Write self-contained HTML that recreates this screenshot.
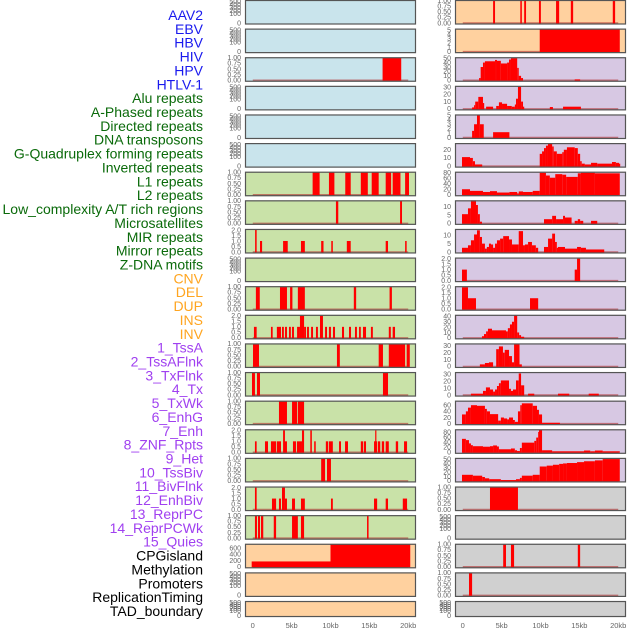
<!DOCTYPE html>
<html><head><meta charset="utf-8">
<style>
html,body{margin:0;padding:0;background:#fff;width:630px;height:630px;overflow:hidden}
svg{display:block}
</style></head>
<body>
<svg id="chart" width="630" height="630" viewBox="0 0 630 630" xmlns="http://www.w3.org/2000/svg" font-family="Liberation Sans, sans-serif">
<g id="labels"></g>
<g id="panels"></g>
<g id="xaxes"></g>
</svg>
<script>
// ---------- data ----------
const featureLabels = ["AAV2","EBV","HBV","HIV","HPV","HTLV-1","Alu repeats","A-Phased repeats","Directed repeats","DNA transposons","G-Quadruplex forming repeats","Inverted repeats","L1 repeats","L2 repeats","Low_complexity A/T rich regions","Microsatellites","MIR repeats","Mirror repeats","Z-DNA motifs","CNV","DEL","DUP","INS","INV","1_TssA","2_TssAFlnk","3_TxFlnk","4_Tx","5_TxWk","6_EnhG","7_Enh","8_ZNF_Rpts","9_Het","10_TssBiv","11_BivFlnk","12_EnhBiv","13_ReprPC","14_ReprPCWk","15_Quies","CPGisland","Methylation","Promoters","ReplicationTiming","TAD_boundary"];
const labelGroups = ["virus","virus","virus","virus","virus","virus","repeat","repeat","repeat","repeat","repeat","repeat","repeat","repeat","repeat","repeat","repeat","repeat","repeat","sv","sv","sv","sv","sv","chrom","chrom","chrom","chrom","chrom","chrom","chrom","chrom","chrom","chrom","chrom","chrom","chrom","chrom","chrom","other","other","other","other","other"];
const xTickValues = [0,5,10,15,20];
const xTickLabels = ["0","5kb","10kb","15kb","20kb"];
const ticksEmpty = ["0","100","200","300","400","500"];
const ticks1 = ["0.00","0.25","0.50","0.75","1.00"];
const ticks2 = ["0.0","0.5","1.0","1.5","2.0"];
const ticks5 = ["0","1","2","3","4","5"];
const ticks10 = ["0","5","10"];
const ticks20 = ["0","10","20"];
const ticks30 = ["0","10","20","30"];
const ticks40 = ["0","10","20","30","40"];
const ticks50 = ["0","10","20","30","40","50"];
const ticks60 = ["0","20","40","60"];
const ticks80 = ["0","20","40","60","80"];
const ticks600 = ["0","200","400","600"];

// bars: [startKb, endKb, value]
const leftHIV = [[16.7,19.1,1]];
const leftL1 = [[7.7,8.6,1],[9.8,10.5,1],[11.9,12.6,1],[13.9,14.8,1],[15.3,16.2,1],[17.1,17.8,1],[18.0,19.0,1],[19.6,20.1,1]];
const leftLowc = [[10.7,11.0,1],[18.95,19.2,1]];
const leftMIR = [[0.3,0.5,2],[0.93,1.2,1],[3.9,4.5,1],[6.2,6.7,1],[8.8,9.1,1],[10.1,10.3,1],[12.1,12.6,1],[17.1,17.4,1],[19.6,19.8,1]];
const leftR11 = [[0.4,0.9,1],[3.5,4.4,1],[4.8,5.1,1],[5.8,6.7,1],[13.0,13.3,1],[17.6,17.9,1]];
const leftR12 = [[0.15,0.5,1],[2.34,2.56,1],[3.1,3.63,1],[3.76,4.0,1],[4.15,4.4,1],[4.66,4.9,1],[5.05,5.3,1],[5.7,6.07,1],[6.07,6.6,2],[6.6,6.85,1],[6.98,7.23,1],[7.5,7.75,1],[8.13,8.38,1],[8.65,9.03,2],[9.3,9.55,1],[9.8,10.06,1],[10.32,10.58,1],[11.48,11.74,1],[12.38,12.64,1],[13.15,13.4,1],[13.67,13.9,1],[14.18,14.57,1],[15.2,15.45,1],[17.5,17.76,1],[18.0,18.3,1]];
const leftR13 = [[0.03,0.8,1],[10.83,11.2,1],[16.2,16.75,1],[17.5,19.6,1],[19.8,20.2,1]];
const leftR14 = [[-0.1,0.28,1],[0.54,0.93,1],[16.75,17.4,1]];
const leftR15 = [[3.37,4.4,1],[5.05,5.7,1],[5.8,6.6,1]];
const leftR16 = [[0.28,0.5,1],[1.57,1.96,1],[2.34,3.0,1],[3.1,3.63,1],[3.9,4.14,2],[4.0,4.4,1],[5.17,5.56,1],[5.68,6.33,1],[6.33,6.6,2],[7.4,7.6,2],[7.9,8.1,1],[9.4,9.7,1],[9.8,10.3,1],[11.1,11.35,1],[11.87,12.25,1],[13.9,14.2,1],[14.3,14.57,1],[15.6,16.0,1],[15.75,15.9,2],[16.1,16.4,1],[16.6,16.9,1],[17.1,17.5,1],[18.4,18.7,1],[19.46,19.85,1]];
const leftR17 = [[8.8,9.3,1],[9.55,10.06,1]];
const leftR18 = [[0.28,0.5,2],[2.47,3.0,1],[3.37,3.63,1],[3.76,4.14,2],[4.14,4.4,1],[5.05,5.43,1],[6.2,6.7,1],[10.06,10.3,1],[15.6,16.0,1],[17.1,17.4,1],[19.3,19.85,1]];
const leftR19 = [[0.28,0.54,1],[0.67,0.93,1],[1.06,1.35,1],[2.7,3.0,1],[5.05,5.8,1],[6.2,6.6,1],[14.7,14.9,1]];
const leftCPG = [[-0.14,10.0,170],[10.0,20.26,720]];

const rightR1 = [[3.9,4.15,1],[7.4,7.6,1],[7.9,8.14,1],[9.8,10.05,1],[12.0,12.4,1],[13.9,14.2,1],[19.3,19.6,1]];
const rightR2 = [[9.9,20.2,5.5]];
const rightR3 = [[2.1,2.3,5],[2.3,2.6,30],[2.6,2.85,40],[2.85,4.15,43],[4.15,4.4,46],[4.4,4.9,44],[4.9,5.7,38],[5.7,5.95,40],[5.95,6.2,47],[6.2,7.0,50],[7.0,7.2,28],[7.2,7.5,10],[7.5,7.75,5],[14.4,15.1,2]];
const rightR4 = [[1.2,1.45,2],[1.45,1.6,5],[1.6,2.0,10],[2.0,2.6,16.5],[2.6,2.75,8],[3.0,3.9,3],[4.3,4.65,4],[4.65,5.05,9],[5.05,5.7,7],[5.7,6.3,4],[6.3,6.7,3],[6.7,6.85,6],[6.85,7.1,14],[7.1,7.5,31],[7.5,7.75,10],[7.75,7.9,3],[11.2,11.6,2.5],[12.9,15.2,3]];
const rightR5 = [[1.2,1.45,1.5],[1.45,1.83,3],[1.83,2.2,5],[2.2,2.7,3],[3.9,6.0,1.2]];
const rightR6 = [[-0.1,0.93,11],[0.93,1.3,10],[1.3,1.57,6],[1.57,2.5,2],[9.9,10.2,15],[10.2,10.45,18],[10.45,10.7,22],[10.7,10.96,25],[10.96,11.5,27],[11.5,11.7,24],[11.7,12.1,18],[12.1,12.8,15],[12.8,13.0,17],[13.0,13.4,20],[13.4,14.4,23],[14.4,14.8,22],[14.8,15.1,15],[15.1,15.3,6],[15.3,15.7,3],[15.7,16.5,2],[16.5,17.3,4],[17.3,19.2,3],[19.2,19.7,5],[19.7,20.1,4],[20.1,20.2,3]];
const rightR7 = [[-0.1,0.93,20],[0.93,2.6,14],[2.6,3.5,10],[3.5,4.4,13],[4.4,6.0,8],[6.0,7.0,10],[7.0,7.2,5],[7.2,7.75,12],[7.75,9.0,10],[9.0,9.9,14],[9.9,10.7,80],[10.7,11.2,70],[11.2,11.9,62],[11.9,12.8,75],[12.8,13.3,73],[13.3,14.8,65],[14.8,15.2,78],[15.2,17.0,80],[17.0,20.2,78]];
const rightR8 = [[-0.1,0.67,5.5],[0.67,1.05,9],[1.05,1.7,14],[1.7,1.95,11],[1.95,2.2,5.5],[2.2,2.47,1],[10.45,11.5,2.5],[11.5,12.0,4.5],[12.0,12.9,2.5],[12.9,13.15,4.5],[13.15,14.0,3.5],[14.4,14.8,1.5],[14.8,15.1,2.5],[15.1,15.5,1.5],[16.5,17.3,1.5]];
const rightR9 = [[-0.1,0.67,2.5],[0.67,1.05,4],[1.05,1.45,7],[1.45,1.83,10.5],[1.83,2.2,13],[2.2,2.47,9],[2.47,2.85,5],[2.85,3.1,2],[3.1,3.37,3],[3.37,3.63,5],[3.63,3.9,4.5],[3.9,4.15,2.5],[4.15,4.4,5],[4.4,4.8,7],[4.8,5.2,8],[5.2,5.95,9.5],[5.95,6.33,7.5],[6.33,7.2,4.5],[7.2,7.75,12.5],[7.75,8.0,4],[8.0,8.4,4.5],[8.4,8.9,6],[8.9,9.4,4],[9.4,9.7,2.5],[10.45,10.97,3],[10.97,11.5,8],[11.5,11.87,11],[11.87,12.1,6],[12.1,12.25,2.5],[12.25,13.15,3],[13.15,14.7,2],[14.7,15.2,3],[15.2,15.85,2.5],[15.85,18.2,1.5]];
const rightR10 = [[-0.1,0.53,1],[14.4,14.7,1],[14.7,15.1,2]];
const rightR11 = [[-0.1,0.67,2],[0.67,1.7,1],[8.65,9.7,1]];
const rightR12 = [[2.47,2.73,3],[2.73,3.0,7],[3.0,3.24,12],[3.24,3.76,17],[3.76,5.56,14],[5.56,5.8,12],[5.8,6.07,18],[6.07,6.33,25],[6.33,6.6,30],[6.6,7.0,42],[7.0,7.25,10],[7.25,7.5,5],[7.5,7.9,2]];
const rightR13 = [[2.2,2.85,3],[2.85,3.37,5],[3.37,3.9,6],[4.3,4.65,25],[4.65,5.17,29],[5.17,5.4,20],[5.4,5.95,24],[5.95,6.33,15],[6.33,6.6,6],[6.6,7.3,32],[7.3,7.6,3]];
const rightR14 = [[1.05,2.6,2],[2.6,2.98,6],[2.98,3.5,11],[3.5,3.9,8],[3.9,4.15,5],[4.15,4.4,8],[4.4,4.65,13],[4.65,4.9,17],[4.9,5.95,21],[5.95,6.2,9],[6.2,6.46,6],[6.46,6.85,8],[6.85,7.2,21],[7.2,7.5,31],[7.5,7.9,14],[8.4,9.2,2],[12.25,13.7,2],[16.2,17.5,2]];
const rightR15 = [[-0.1,0.4,30],[0.4,0.67,40],[0.67,1.05,52],[1.05,1.83,60],[1.83,2.85,58],[2.85,3.1,48],[3.1,3.5,40],[3.5,4.55,31],[4.55,4.9,10],[4.9,5.3,20],[5.3,5.7,17],[5.7,5.95,14],[5.95,6.46,20],[6.46,6.7,12],[6.7,7.1,6],[7.1,7.4,40],[7.4,7.6,60],[7.6,9.0,66],[9.0,9.55,58],[9.55,9.8,45],[9.8,10.2,30],[10.2,12.5,3]];
const rightR16 = [[-0.1,0.4,53],[0.4,0.8,48],[0.8,1.05,35],[1.05,1.3,28],[1.3,2.6,24],[2.6,3.5,22],[3.5,3.9,24],[3.9,4.4,27],[4.4,4.65,23],[4.65,6.2,12],[6.2,6.7,15],[6.7,6.98,8],[6.98,7.35,5],[7.35,7.6,17],[7.6,9.2,38],[9.2,9.45,45],[9.45,9.7,58],[9.7,9.8,80],[9.8,10.2,88],[10.2,11.5,8],[11.5,15.6,4],[15.6,16.4,7],[16.4,17.0,4],[17.0,18.0,7],[18.0,20.2,4]];
const rightR17 = [[-0.1,1.3,14],[1.3,2.5,12],[2.5,2.85,9],[2.85,3.4,6],[3.4,4.9,4],[4.9,6.85,2],[6.85,7.35,4],[7.35,7.6,7],[7.6,9.0,12],[9.0,9.9,14],[9.9,10.8,33],[10.8,11.6,35],[11.6,12.4,37],[12.4,12.9,39],[12.9,13.4,40],[13.4,14.7,41],[14.7,15.6,43],[15.6,17.0,45],[17.0,18.0,47],[18.0,20.2,50]];
const rightR18 = [[3.5,7.1,1]];
const rightR20 = [[5.2,5.56,1],[6.2,6.6,1],[14.8,15.1,1]];
const rightR21 = [[0.8,1.2,1]];

const BLUE="#c9e4ec", PEACH="#ffd19f", PURP="#d7c8e3", GREEN="#c9e2a8", GRAY="#d0d0d0";
const leftPanels = [
 [BLUE,ticksEmpty,0,null],[BLUE,ticksEmpty,0,null],[BLUE,ticks1,1.0,leftHIV],[BLUE,ticksEmpty,0,null],[BLUE,ticksEmpty,0,null],[BLUE,ticksEmpty,0,null],
 [GREEN,ticks1,1.0,leftL1],[GREEN,ticks1,1.0,leftLowc],[GREEN,ticks2,2.05,leftMIR],[GREEN,ticksEmpty,0,null],[GREEN,ticks1,1.0,leftR11],[GREEN,ticks2,2.05,leftR12],
 [GREEN,ticks1,1.0,leftR13],[GREEN,ticks1,1.0,leftR14],[GREEN,ticks1,1.0,leftR15],[GREEN,ticks2,2.05,leftR16],[GREEN,ticks1,1.0,leftR17],[GREEN,ticks2,2.05,leftR18],
 [GREEN,ticks1,1.0,leftR19],[PEACH,ticks600,717,leftCPG],[PEACH,ticksEmpty,0,null],[PEACH,ticksEmpty,0,null]];
const rightPanels = [
 [PEACH,ticks1,1.0,rightR1],[PEACH,ticks5,5.2,rightR2],[PURP,ticks50,51,rightR3],[PURP,ticks30,31,rightR4],[PURP,ticks5,5.1,rightR5],[PURP,ticks20,27.5,rightR6],
 [PURP,ticks80,82,rightR7],[PURP,ticks10,13.5,rightR8],[PURP,ticks10,13.5,rightR9],[PURP,ticks2,2.05,rightR10],[PURP,ticks2,2.05,rightR11],[PURP,ticks40,42,rightR12],
 [PURP,ticks30,32.6,rightR13],[PURP,ticks30,32.3,rightR14],[PURP,ticks60,73,rightR15],[PURP,ticks80,88.6,rightR16],[PURP,ticks50,51.5,rightR17],[GRAY,ticks1,1.0,rightR18],
 [GRAY,ticksEmpty,0,null],[GRAY,ticks1,1.0,rightR20],[GRAY,ticks1,1.0,rightR21],[GRAY,ticksEmpty,0,null]];

// ---------- drawing ----------
const NS="http://www.w3.org/2000/svg";
function mk(tag, attrs, parent){const e=document.createElementNS(NS,tag);for(const k in attrs)e.setAttribute(k,attrs[k]);parent.appendChild(e);return e;}
const groupColors={virus:"#1a1aee",repeat:"#0a6a0a",sv:"#ffa520",chrom:"#a040f0",other:"#000"};
const labelsG=document.getElementById('labels');
featureLabels.forEach((t,i)=>{
  const e=mk('text',{x:203,y:20+i*13.86,'text-anchor':'end','font-size':'14',fill:groupColors[labelGroups[i]]},labelsG);
  
  
  e.textContent=t;
});
const DX0=-1.0, DX1=21.0, PW=171;
function xScale(colX,kb){return colX+(kb-DX0)/(DX1-DX0)*PW;}
const panelsG=document.getElementById('panels');
function rowTop(i){return i*28.62;}
function drawPanel(colX,i,spec){
  const [bg,ticks,ymax,bars]=spec;
  const top=rowTop(i), h=(i===21?16:24.5);
  const g=mk('g',{},panelsG);
  
  
  mk('rect',{x:colX,y:top,width:PW,height:h,fill:bg},g);
  const y0=top+h-1.5, yr=h-2;
  const yScale=v=>y0-(v/ymax)*yr;
  const n=ticks.length;
  ticks.forEach((t,k)=>{
    let y;
    if(ymax===0){ y = k===0 ? y0 : top+1.5+(n-1-k)*(Math.min(h-8,12)/(n-2)); }
    else { y = yScale(parseFloat(t)); }
    const e=mk('text',{x:colX-4,y:y+2.3,'text-anchor':'end','font-size':'7',fill:'#666'},g);
    
    
    e.textContent=t;
  });
  if(bars){
    mk('line',{x1:xScale(colX,0),x2:xScale(colX,20),y1:y0,y2:y0,stroke:'#b03030','stroke-opacity':'0.6','stroke-width':'1.5'},g);
    bars.forEach(b=>{
      const x1=Math.max(colX,xScale(colX,b[0])), x2=Math.min(colX+PW,xScale(colX,b[1]));
      const yt=Math.max(top,yScale(b[2]));
      const r=mk('rect',{x:x1,y:yt,width:Math.max(1.2,x2-x1),height:Math.max(0,y0-yt+0.5),fill:'#ff0000'},g);
      
      
    });
  }
  mk('rect',{x:colX+0.5,y:top+0.5,width:PW-1,height:h-1,fill:'none',stroke:'#555','stroke-width':'1.2'},g);
}
leftPanels.forEach((s,i)=>drawPanel(245,i,s));
rightPanels.forEach((s,i)=>drawPanel(455,i,s));
const xg=document.getElementById('xaxes');
[245,455].forEach(cx=>{
  xTickValues.forEach((v,k)=>{
    const e=mk('text',{x:xScale(cx,v),y:628,'text-anchor':'middle','font-size':'7.5',fill:'#666'},xg);
    
    
    e.textContent=xTickLabels[k];
  });
});
</script>
</body></html>
